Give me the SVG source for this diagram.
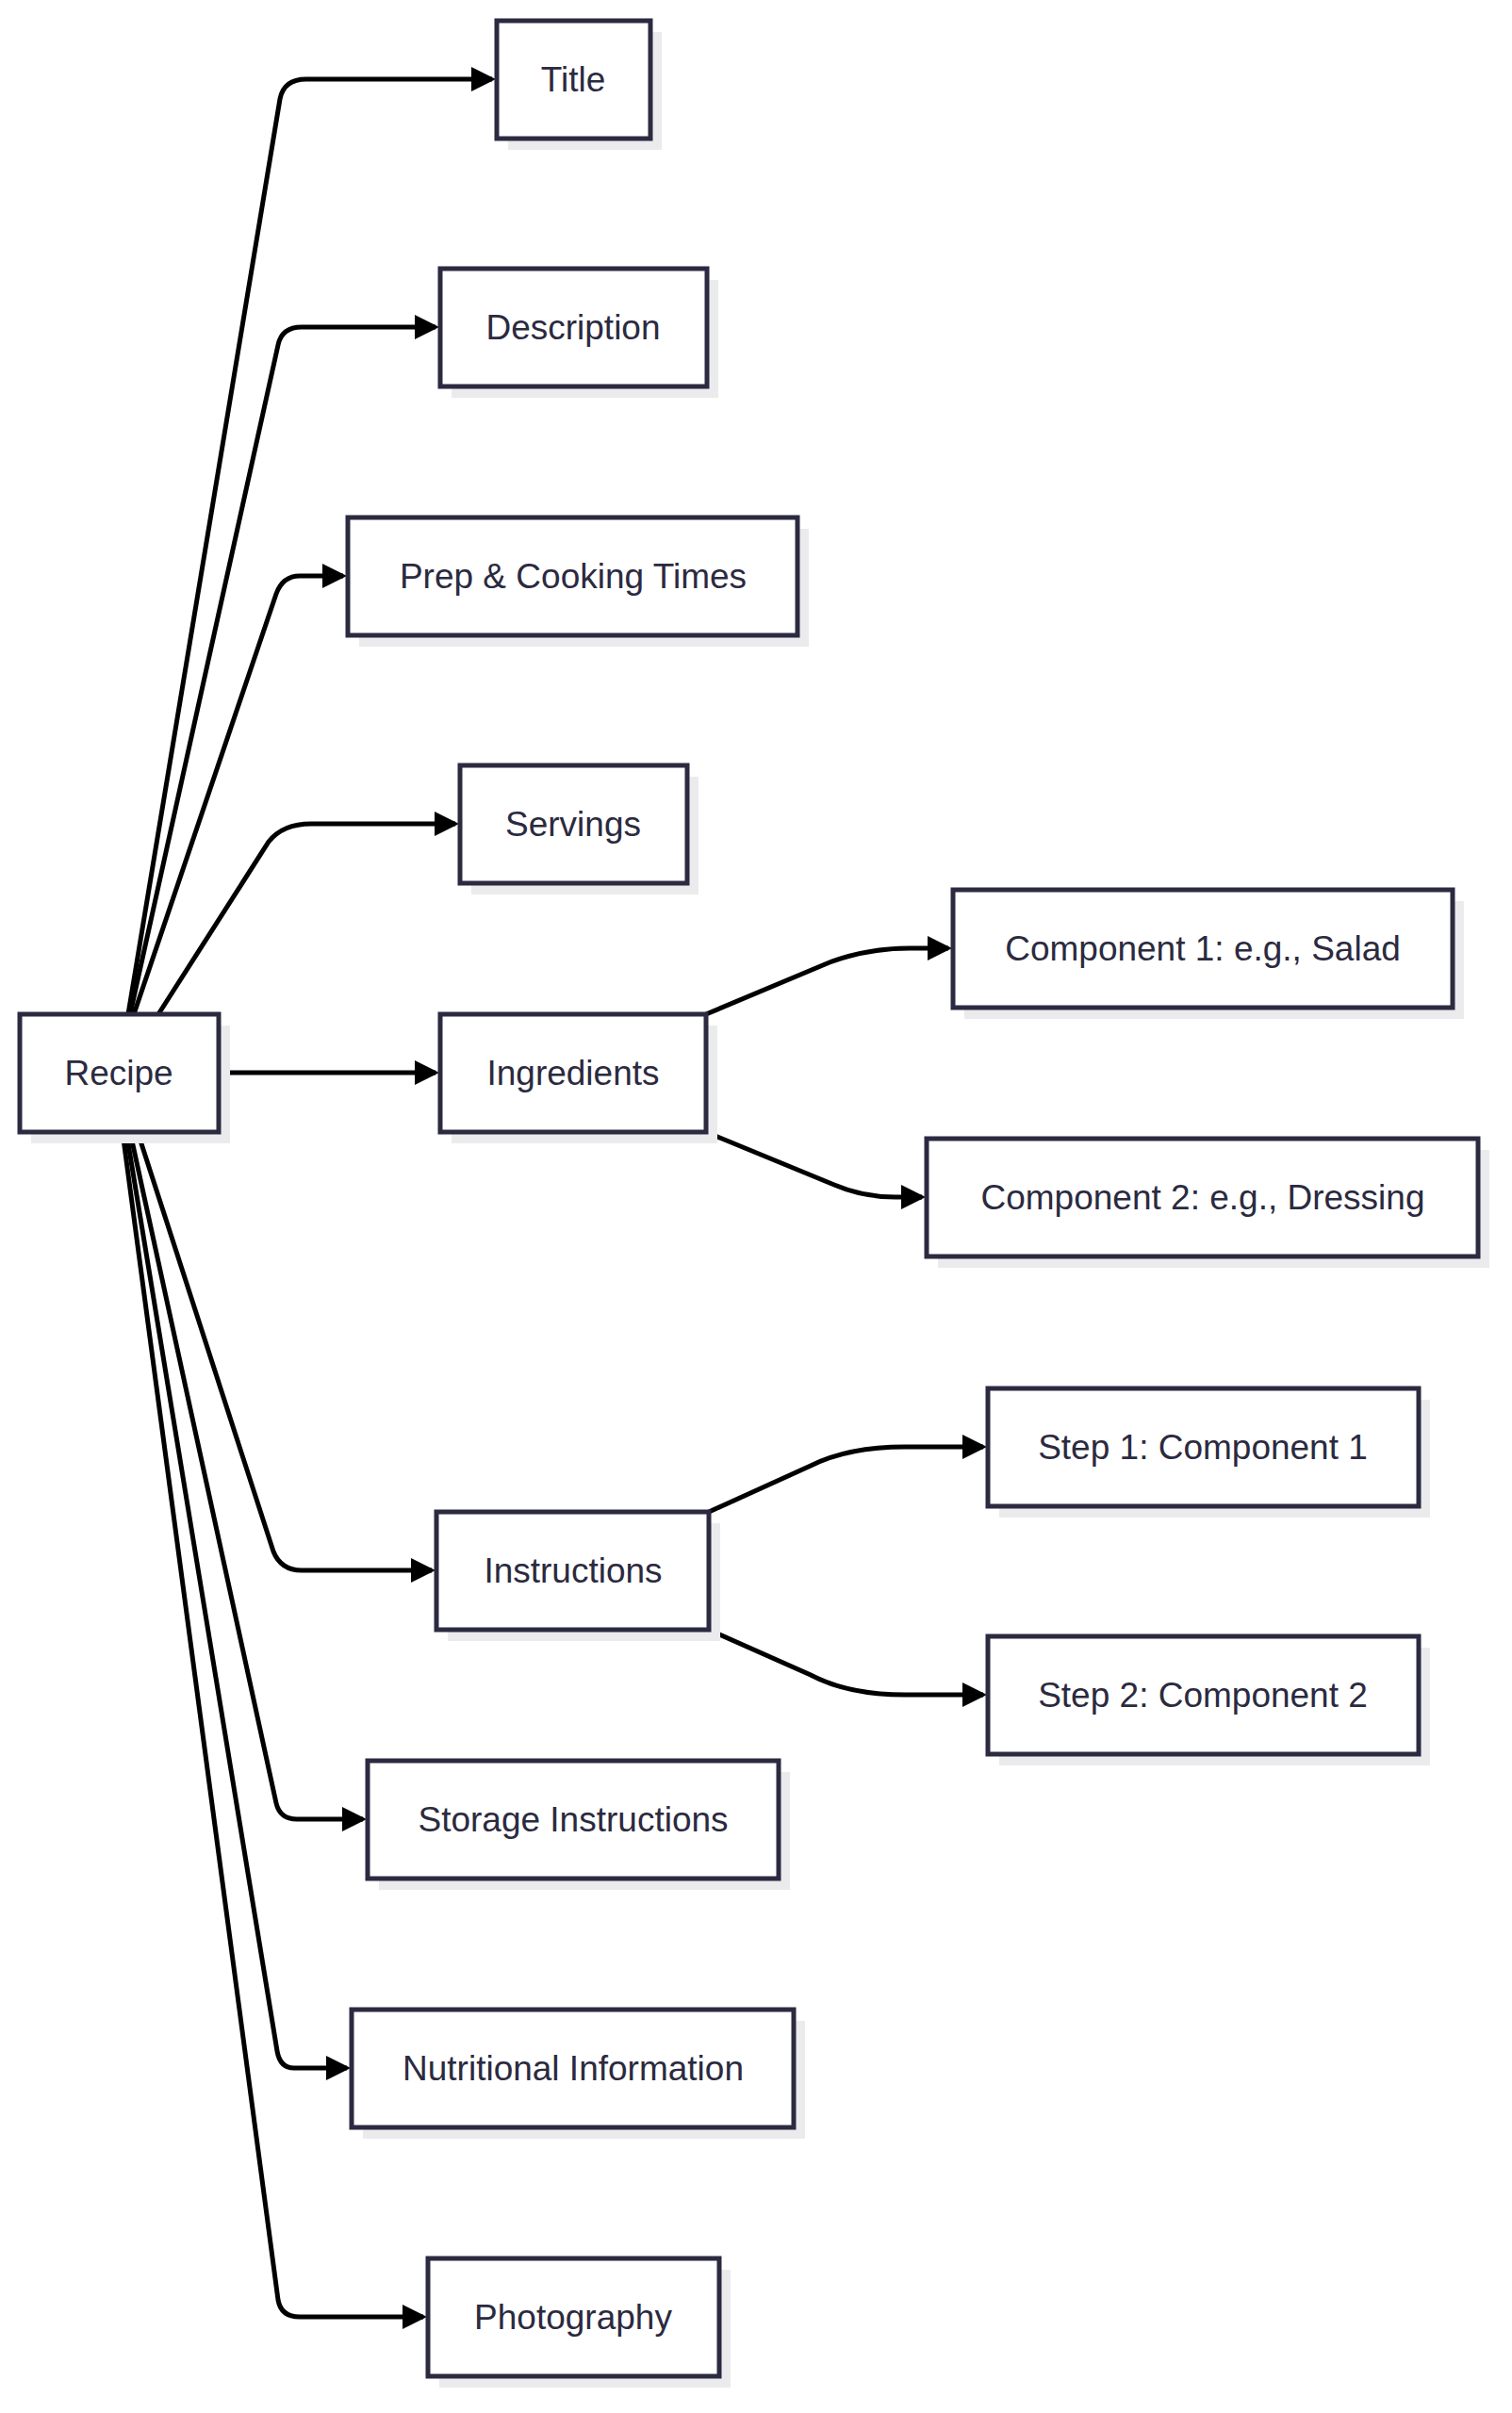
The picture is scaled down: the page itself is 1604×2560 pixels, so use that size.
<svg xmlns="http://www.w3.org/2000/svg" width="1604" height="2560" viewBox="0 0 1604 2560">
<style>
.n rect.b{fill:#fff;stroke:#2b2a40;stroke-width:5}
.n rect.s{fill:#ebebee}
.n text{font-family:"Liberation Sans",Arial,sans-serif;font-size:37px;fill:#2b2a40;text-anchor:middle;dominant-baseline:central}
.e path{fill:none;stroke:#000;stroke-width:5;marker-end:url(#a)}
</style>
<defs>
<marker id="a" markerWidth="26" markerHeight="26" refX="22" refY="13" markerUnits="userSpaceOnUse" orient="auto"><path d="M0,0 L26,13 L0,26 Z" fill="#000"/></marker>
</defs>
<rect width="1604" height="2560" fill="#fff"/>
<g class="e">
<path d="M136,1076 L297,105 Q301,84 325,84 L522,84"/>
<path d="M138,1076 L295,366 Q299,347 320,347 L462,347"/>
<path d="M142,1076 L293,630 Q300,611 318,611 L364,611"/>
<path d="M168,1076 L285,893 Q300,874 330,874 L483,874"/>
<path d="M232,1138 L462,1138"/>
<path d="M749,1076 L880,1021 Q920,1006 965,1006 L1006,1006"/>
<path d="M749,1201 L885,1257 Q915,1270 950,1270 L978,1270"/>
<path d="M752,1604 L860,1555 Q900,1535 960,1535 L1043,1535"/>
<path d="M752,1729 L860,1777 Q900,1798 960,1798 L1043,1798"/>
<path d="M146,1201 L290,1646 Q298,1666 320,1666 L458,1666"/>
<path d="M138,1201 L293,1913 Q297,1930 315,1930 L385,1930"/>
<path d="M134,1201 L294,2176 Q297,2194 312,2194 L368,2194"/>
<path d="M130,1201 L295,2440 Q298,2458 318,2458 L449,2458"/>
</g>
<g id="recipe" class="n"><rect class="s" x="33" y="1088" width="211" height="125"/><rect class="b" x="21" y="1076" width="211" height="125"/><text x="126" y="1138">Recipe</text></g>
<g id="title" class="n"><rect class="s" x="539" y="34" width="163" height="125"/><rect class="b" x="527" y="22" width="163" height="125"/><text x="608" y="84">Title</text></g>
<g id="description" class="n"><rect class="s" x="479" y="297" width="283" height="125"/><rect class="b" x="467" y="285" width="283" height="125"/><text x="608" y="347">Description</text></g>
<g id="prep" class="n"><rect class="s" x="381" y="561" width="477" height="125"/><rect class="b" x="369" y="549" width="477" height="125"/><text x="608" y="611">Prep &amp; Cooking Times</text></g>
<g id="servings" class="n"><rect class="s" x="500" y="824" width="241" height="125"/><rect class="b" x="488" y="812" width="241" height="125"/><text x="608" y="874">Servings</text></g>
<g id="ingredients" class="n"><rect class="s" x="479" y="1088" width="282" height="125"/><rect class="b" x="467" y="1076" width="282" height="125"/><text x="608" y="1138">Ingredients</text></g>
<g id="comp1" class="n"><rect class="s" x="1023" y="956" width="530" height="125"/><rect class="b" x="1011" y="944" width="530" height="125"/><text x="1276" y="1006">Component 1: e.g., Salad</text></g>
<g id="comp2" class="n"><rect class="s" x="995" y="1220" width="585" height="125"/><rect class="b" x="983" y="1208" width="585" height="125"/><text x="1276" y="1270">Component 2: e.g., Dressing</text></g>
<g id="instructions" class="n"><rect class="s" x="475" y="1616" width="289" height="125"/><rect class="b" x="463" y="1604" width="289" height="125"/><text x="608" y="1666">Instructions</text></g>
<g id="step1" class="n"><rect class="s" x="1060" y="1485" width="457" height="125"/><rect class="b" x="1048" y="1473" width="457" height="125"/><text x="1276" y="1535">Step 1: Component 1</text></g>
<g id="step2" class="n"><rect class="s" x="1060" y="1748" width="457" height="125"/><rect class="b" x="1048" y="1736" width="457" height="125"/><text x="1276" y="1798">Step 2: Component 2</text></g>
<g id="storage" class="n"><rect class="s" x="402" y="1880" width="436" height="125"/><rect class="b" x="390" y="1868" width="436" height="125"/><text x="608" y="1930">Storage Instructions</text></g>
<g id="nutrition" class="n"><rect class="s" x="385" y="2144" width="469" height="125"/><rect class="b" x="373" y="2132" width="469" height="125"/><text x="608" y="2194">Nutritional Information</text></g>
<g id="photography" class="n"><rect class="s" x="466" y="2408" width="309" height="125"/><rect class="b" x="454" y="2396" width="309" height="125"/><text x="608" y="2458">Photography</text></g>
</svg>
